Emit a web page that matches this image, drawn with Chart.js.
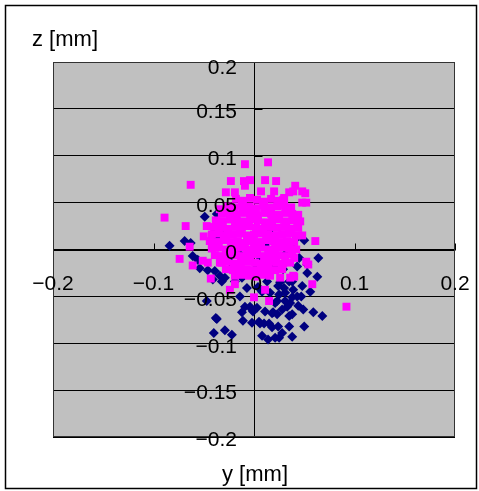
<!DOCTYPE html>
<html>
<head>
<meta charset="utf-8">
<script src="https://cdn.jsdelivr.net/npm/chart.js@4/dist/chart.umd.min.js"></script>
<style>
  html, body { margin: 0; padding: 0; background: #fff; }
</style>
</head>
<body>
<canvas id="scatter" width="479" height="491"></canvas>
<script>
// axis ticks
const yTickValues = [-0.2, -0.1, 0, 0.1, 0.2];
const yTickLabels = ['\u22120.2', '\u22120.1', '0', '0.1', '0.2'];
const zTickValues = [0.2, 0.15, 0.1, 0.05, 0, -0.05, -0.1, -0.15, -0.2];
const zTickLabels = ['0.2', '0.15', '0.1', '0.05', '0', '\u22120.05', '\u22120.1', '\u22120.15', '\u22120.2'];

// navy series [y, z] in mm
const navyPoints = [
  [-0.049, 0.035], [-0.037, 0.038], [0.039, 0.037], [-0.084, 0.004], [-0.069, 0.009],
  [-0.063, 0.007], [0.050, 0.010], [0.043, 0.013], [-0.061, -0.007], [-0.056, -0.011],
  [-0.054, -0.020], [-0.046, -0.022], [-0.039, -0.023], [-0.034, -0.028], [-0.041, -0.032],
  [-0.032, -0.034], [-0.029, -0.030], [-0.019, -0.034], [-0.012, -0.030], [-0.007, -0.041],
  [-0.014, -0.050], [-0.009, -0.061], [-0.002, -0.064], [-0.012, -0.067], [-0.047, -0.055],
  [-0.038, -0.073], [-0.040, -0.089], [-0.029, -0.086], [-0.022, -0.091], [-0.004, -0.061],
  [0.003, -0.062], [-0.001, -0.066], [0.005, -0.077], [0.010, -0.079], [0.015, -0.079],
  [0.018, -0.068], [0.021, -0.057], [0.025, -0.048], [0.030, -0.041], [0.035, -0.034],
  [0.026, -0.035], [0.013, -0.034], [0.008, -0.045], [0.016, -0.046], [0.024, -0.039],
  [0.039, -0.043], [0.031, -0.046], [0.043, -0.050], [0.036, -0.057], [0.031, -0.055],
  [0.023, -0.055], [0.028, -0.064], [0.019, -0.067], [0.011, -0.066], [0.023, -0.069],
  [0.033, -0.061], [0.035, -0.071], [0.049, -0.064], [0.059, -0.067], [0.068, -0.071],
  [0.050, -0.082], [0.038, -0.069], [0.035, -0.082], [0.028, -0.089], [0.018, -0.083],
  [0.024, -0.082], [0.021, -0.094], [0.025, -0.094], [0.038, -0.093], [0.064, -0.009],
  [0.063, -0.029], [0.053, -0.025], [0.053, -0.016], [0.048, -0.039], [0.047, -0.050],
  [0.038, -0.051], [0.043, -0.018], [0.045, -0.009], [0.038, -0.034], [0.037, 0.005],
  [-0.039, 0.019], [-0.037, 0.013], [-0.034, 0.011], [-0.032, 0.016], [-0.011, -0.076],
  [-0.002, -0.078], [0.006, -0.079], [-0.037, -0.074], [0.014, -0.096], [0.008, -0.092],
  [-0.014, -0.005], [0.006, -0.011], [0.021, -0.016], [-0.004, 0.011], [0.011, 0.005],
  [-0.024, -0.013], [0.031, -0.005], [0.016, 0.021], [-0.009, 0.027], [0.001, -0.021],
  [-0.014, -0.021], [0.029, -0.021], [0.004, -0.040], [0.044, -0.060], [0.056, -0.045]
];

// magenta series [y, z] in mm
const magentaPoints = [
  // scattered
  [-0.009, 0.091], [0.014, 0.093], [-0.063, 0.069], [-0.023, 0.073], [-0.010, 0.073],
  [-0.004, 0.074], [-0.009, 0.068], [0.011, 0.074], [0.022, 0.073], [0.041, 0.068],
  [0.039, 0.062], [0.048, 0.062], [0.051, 0.060], [0.048, 0.050], [0.052, 0.050],
  [0.030, 0.055], [0.035, 0.061], [0.007, 0.062], [0.020, 0.062], [-0.028, 0.061],
  [-0.019, 0.061], [-0.034, 0.043], [-0.089, 0.034], [-0.068, 0.025], [-0.047, 0.025],
  [-0.050, 0.014], [-0.064, 0.003], [0.061, 0.009], [0.043, 0.030], [0.048, 0.015],
  [-0.074, -0.010], [-0.061, -0.017], [-0.051, -0.012], [-0.046, -0.014], [-0.043, -0.031],
  [-0.032, -0.014], [0.052, -0.013], [0.054, -0.016], [0.040, -0.009], [0.039, -0.028],
  [0.036, -0.030], [0.058, -0.037], [0.026, -0.030], [0.011, -0.043], [0.015, -0.055],
  [0.000, -0.051], [-0.019, -0.037], [-0.024, -0.043], [0.092, -0.061], [0.040, -0.029],
  // dense core
  [-0.018, 0.054], [-0.011, 0.052], [-0.004, 0.055], [0.003, 0.053], [0.010, 0.051],
  [0.017, 0.054], [0.024, 0.052], [0.029, 0.053],
  [-0.026, 0.046], [-0.019, 0.045], [-0.012, 0.047], [-0.005, 0.046], [0.002, 0.044],
  [0.009, 0.047], [0.016, 0.045], [0.023, 0.046], [0.030, 0.047], [0.037, 0.045],
  [-0.032, 0.038], [-0.025, 0.039], [-0.018, 0.037], [-0.011, 0.039], [-0.004, 0.038],
  [0.003, 0.036], [0.010, 0.039], [0.017, 0.038], [0.024, 0.037], [0.031, 0.039],
  [0.038, 0.038], [0.044, 0.037],
  [-0.038, 0.031], [-0.031, 0.030], [-0.024, 0.032], [-0.017, 0.031], [-0.010, 0.030],
  [-0.003, 0.032], [0.004, 0.031], [0.011, 0.029], [0.018, 0.031], [0.025, 0.032],
  [0.032, 0.030], [0.039, 0.031], [0.046, 0.030],
  [-0.040, 0.024], [-0.033, 0.023], [-0.026, 0.022], [-0.019, 0.024], [-0.012, 0.023],
  [-0.005, 0.025], [0.002, 0.023], [0.009, 0.022], [0.016, 0.024], [0.023, 0.023],
  [0.030, 0.024], [0.037, 0.022], [0.044, 0.023],
  [-0.042, 0.016], [-0.035, 0.017], [-0.028, 0.015], [-0.021, 0.016], [-0.014, 0.017],
  [-0.007, 0.015], [0.000, 0.016], [0.007, 0.017], [0.014, 0.016], [0.021, 0.015],
  [0.028, 0.016], [0.035, 0.017], [0.042, 0.015],
  [-0.044, 0.009], [-0.037, 0.008], [-0.030, 0.010], [-0.023, 0.008], [-0.016, 0.009],
  [-0.009, 0.007], [-0.002, 0.009], [0.005, 0.008], [0.012, 0.010], [0.019, 0.009],
  [0.026, 0.008], [0.033, 0.009], [0.040, 0.008],
  [-0.042, 0.001], [-0.035, 0.002], [-0.028, 0.000], [-0.021, 0.001], [-0.014, 0.002],
  [-0.007, 0.000], [0.000, 0.001], [0.007, 0.002], [0.014, 0.000], [0.021, 0.001],
  [0.028, 0.002], [0.035, 0.001], [0.042, 0.000],
  [-0.039, -0.006], [-0.032, -0.007], [-0.025, -0.005], [-0.018, -0.006], [-0.011, -0.007],
  [-0.004, -0.006], [0.003, -0.005], [0.010, -0.007], [0.017, -0.006], [0.024, -0.006],
  [0.031, -0.007], [0.038, -0.005],
  [-0.034, -0.014], [-0.027, -0.013], [-0.020, -0.015], [-0.013, -0.014], [-0.006, -0.013],
  [0.001, -0.014], [0.008, -0.015], [0.015, -0.013], [0.022, -0.014], [0.029, -0.015],
  [0.036, -0.014],
  [-0.028, -0.021], [-0.021, -0.022], [-0.014, -0.020], [-0.007, -0.021], [0.000, -0.022],
  [0.007, -0.021], [0.014, -0.020], [0.021, -0.022], [0.028, -0.021],
  [-0.019, -0.028], [-0.012, -0.027], [-0.005, -0.028], [0.002, -0.029], [0.009, -0.027],
  [0.016, -0.028]
];

const canvas = document.getElementById('scatter');

const toXY = pts => pts.map(p => ({ x: p[0], y: p[1] }));

const font = '"Liberation Sans", Arial, sans-serif';

const framePlugin = {
  id: 'frame',
  beforeDraw(chart) {
    const { ctx, chartArea: a } = chart;
    ctx.save();
    ctx.fillStyle = '#fff';
    ctx.fillRect(0, 0, chart.width, chart.height);
    ctx.strokeStyle = '#000';
    ctx.lineWidth = 1.5;
    ctx.strokeRect(5.5, 5.5, 471, 483);
    ctx.fillStyle = '#c0c0c0';
    ctx.fillRect(a.left, a.top, a.right - a.left, a.bottom - a.top);
    ctx.restore();
  },
  beforeDatasetsDraw(chart) {
    const { ctx, chartArea: a, scales } = chart;
    const x0 = Math.round(scales.x.getPixelForValue(0)) + 0.5;
    const y0 = Math.round(scales.y.getPixelForValue(0)) + 0.5;
    ctx.save();
    ctx.strokeStyle = '#000';
    ctx.lineWidth = 1;
    ctx.beginPath();
    ctx.moveTo(x0, a.top);
    ctx.lineTo(x0, a.bottom);
    ctx.moveTo(a.left, y0);
    ctx.lineTo(a.right, y0);
    yTickValues.forEach(v => {
      const px = Math.round(scales.x.getPixelForValue(v)) + 0.5;
      ctx.moveTo(px, y0);
      ctx.lineTo(px, y0 - 7);
    });
    zTickValues.forEach(v => {
      const py = Math.round(scales.y.getPixelForValue(v)) + 0.5;
      ctx.moveTo(x0, py);
      ctx.lineTo(x0 + 8, py);
    });
    ctx.stroke();
    ctx.strokeStyle = '#333';
    ctx.strokeRect(a.left + 0.5, a.top + 0.5, a.right - a.left - 1, a.bottom - a.top - 1);
    ctx.restore();
  },
  afterDatasetsDraw(chart) {
    const { ctx, scales } = chart;
    const x0 = scales.x.getPixelForValue(0);
    const y0 = scales.y.getPixelForValue(0);
    ctx.save();
    ctx.fillStyle = '#000';
    ctx.font = '21px ' + font;
    ctx.textBaseline = 'middle';
    ctx.textAlign = 'right';
    zTickValues.forEach((v, i) => {
      const py = scales.y.getPixelForValue(v);
      ctx.fillText(zTickLabels[i], x0 - 17, py + (i === 0 ? 6 : 3.5));
    });
    ctx.textAlign = 'center';
    yTickValues.forEach((v, i) => {
      const px = scales.x.getPixelForValue(v);
      ctx.fillText(yTickLabels[i], px + (v === 0 ? 2 : 0), y0 + 35);
    });
    ctx.font = '22px ' + font;
    ctx.textAlign = 'left';
    ctx.fillText('z [mm]', 32, 40);
    ctx.textAlign = 'center';
    ctx.fillText('y [mm]', 255, 475);
    ctx.restore();
  }
};

new Chart(canvas, {
  type: 'scatter',
  data: {
    datasets: [
      {
        label: 'magenta',
        data: toXY(magentaPoints),
        pointStyle: 'rect',
        pointRadius: 5.6,
        pointHoverRadius: 5.6,
        borderWidth: 0,
        backgroundColor: '#ff00ff',
        borderColor: '#ff00ff',
        order: 0
      },
      {
        label: 'navy',
        data: toXY(navyPoints),
        pointStyle: 'rectRot',
        pointRadius: 5,
        pointHoverRadius: 5,
        borderWidth: 0,
        backgroundColor: '#000080',
        borderColor: '#000080',
        order: 1
      }
    ]
  },
  options: {
    responsive: false,
    animation: false,
    events: [],
    layout: { padding: { left: 53, right: 24, top: 62, bottom: 54 } },
    plugins: { legend: { display: false }, tooltip: { enabled: false } },
    scales: {
      x: {
        type: 'linear',
        min: -0.2,
        max: 0.2,
        ticks: { display: false },
        grid: { display: false },
        border: { display: false },
        afterFit(s) { s.height = 0; }
      },
      y: {
        type: 'linear',
        min: -0.2,
        max: 0.2,
        ticks: { display: false, stepSize: 0.05 },
        grid: { color: '#000', lineWidth: 1, drawTicks: false },
        border: { display: false },
        afterFit(s) { s.width = 0; }
      }
    }
  },
  plugins: [framePlugin]
});
</script>
</body>
</html>
